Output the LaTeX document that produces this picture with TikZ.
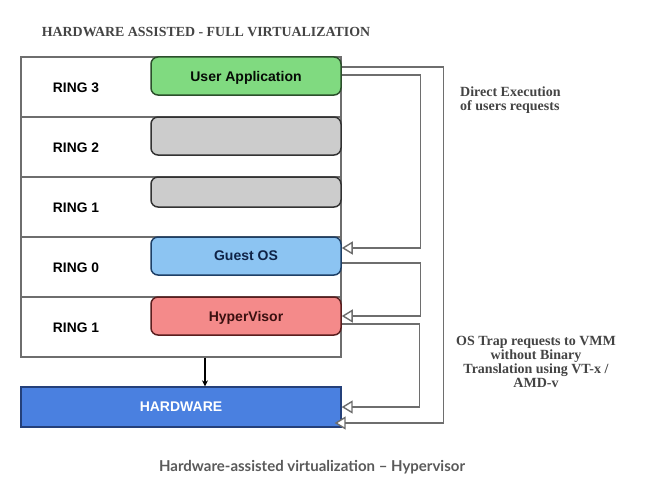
\documentclass[tikz,border=0pt]{standalone}
\usepackage{fontspec}
\setmainfont{Liberation Serif}
\setsansfont{Liberation Sans}
\newfontfamily\capfont{Lato}
\usetikzlibrary{arrows.meta}
\definecolor{linegray}{HTML}{6E6E6E}
\definecolor{txtgray}{HTML}{444444}
\definecolor{capgray}{HTML}{5A5A5A}
\definecolor{gfill}{HTML}{80DA80}
\definecolor{gdraw}{HTML}{2B4F2B}
\definecolor{grfill}{HTML}{CCCCCC}
\definecolor{grdraw}{HTML}{333333}
\definecolor{bfill}{HTML}{8CC4F2}
\definecolor{bdraw}{HTML}{1E3F66}
\definecolor{btext}{HTML}{0F2347}
\definecolor{rfill}{HTML}{F48A8A}
\definecolor{rdraw}{HTML}{5A1E1E}
\definecolor{rtext}{HTML}{3A1010}
\definecolor{hfill}{HTML}{4A80E0}
\definecolor{hdraw}{HTML}{24407A}
\begin{document}
\begin{tikzpicture}[x=1pt,y=-1pt,
  ringrow/.style={draw=linegray,line width=1.3pt,minimum width=320pt,minimum height=60pt,inner sep=0pt,fill=white},
  ringlbl/.style={font=\sffamily\bfseries\fontsize{13.8}{15}\selectfont,text=black,inner sep=0pt,text depth=0pt},
  layer/.style={rounded corners=7pt,line width=1.5pt,minimum width=190pt,inner sep=0pt,text depth=0pt,font=\sffamily\bfseries\fontsize{14}{15}\selectfont},
  conn/.style={draw=linegray,line width=1.4pt},
  openarrow/.style={conn,-{Triangle[open,length=11pt,width=13pt,fill=white]}},
  note/.style={font=\rmfamily\bfseries\fontsize{14}{14}\selectfont,text=txtgray,inner sep=0pt}
]
\useasboundingbox (0,0) rectangle (664,487);
\fill[white] (0,0) rectangle (664,487);

\node[font=\rmfamily\bfseries\fontsize{13.9}{15}\selectfont,text=txtgray,inner sep=0pt] (title) at (206,32) {HARDWARE ASSISTED - FULL VIRTUALIZATION};

% ring rows
\node[ringrow] (r3) at (181,87) {};
\node[ringrow] (r2) at (181,147) {};
\node[ringrow] (r1a) at (181,207) {};
\node[ringrow] (r0) at (181,267) {};
\node[ringrow] (r1b) at (181,327) {};

\node[ringlbl] (l3) at (76,88) {RING 3};
\node[ringlbl] (l2) at (76,148) {RING 2};
\node[ringlbl] (l1a) at (76,208) {RING 1};
\node[ringlbl] (l0) at (76,268) {RING 0};
\node[ringlbl] (l1b) at (76,328) {RING 1};

% layer boxes
\node[layer,fill=gfill,draw=gdraw,text=black!85!gdraw,minimum height=38pt] (ua) at (246,76) {User Application};
\node[layer,fill=grfill,draw=grdraw,minimum height=38pt] (g1) at (246,136) {};
\node[layer,fill=grfill,draw=grdraw,minimum height=30pt] (g2) at (246,192) {};
\node[layer,fill=bfill,draw=bdraw,text=btext,minimum height=38pt] (go) at (246,256) {Guest OS};
\node[layer,fill=rfill,draw=rdraw,text=rtext,minimum height=38pt] (hv) at (246,316) {HyperVisor};

% hardware
\node[draw=hdraw,line width=1.3pt,fill=hfill,minimum width=320pt,minimum height=40pt,inner sep=0pt,text depth=0pt,
      font=\sffamily\bfseries\fontsize{14}{15}\selectfont,text=white] (hw) at (181,407) {HARDWARE};

% down arrow
\draw[line width=1.2pt,-{Stealth[length=6pt,width=6pt]}] ([xshift=24pt]r1b.south) -- ([xshift=24pt]hw.north);

% connectors
\draw[openarrow] ([yshift=9pt]ua.east) -- ++(102,0) |- ([xshift=-7pt,yshift=-16pt]hw.east);
\draw[openarrow] ([yshift=1pt]ua.east) -- ++(79,0) |- ([yshift=8pt]go.east);
\draw[openarrow] ([yshift=-7pt]go.east) -- ++(79,0) |- (hv.east);
\draw[openarrow] ([yshift=-8pt]hv.east) -- ++(78,0) |- (hw.east);

% notes
\node[note,anchor=north west,align=left] (n1) at (460,87) {Direct Execution\\of users requests};
\node[note,anchor=north,align=center] (n2) at (536,336) {OS Trap requests to VMM\\without Binary\\Translation using VT-x /\\AMD-v};

\node[font=\capfont\bfseries\fontsize{15}{16}\selectfont,text=capgray,inner sep=0pt] (cap) at (312,467) {Hardware-assisted virtualization – Hypervisor};
\end{tikzpicture}
\end{document}
